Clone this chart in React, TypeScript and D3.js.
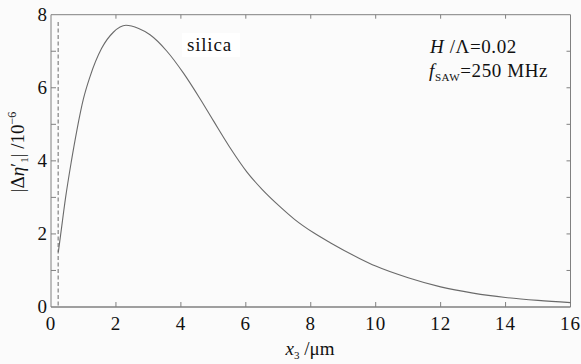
import React from 'react';
import * as d3 from 'd3';

// depth x3 (um) and |delta eta'_1| (1e-6)
const depth = [0.225, 0.3, 0.45, 0.62, 0.8, 1.0, 1.2, 1.56, 1.92, 2.31, 2.7, 3.05, 3.57, 4.08, 4.59, 5.0, 5.5, 6.03, 6.5, 7.06, 7.5, 8.09, 8.6, 9.5, 10, 11, 12, 13, 14, 15, 16];
const eta = [1.5, 2.0, 3.0, 3.95, 4.85, 5.7, 6.3, 7.08, 7.52, 7.71, 7.62, 7.45, 7.0, 6.4, 5.7, 5.1, 4.38, 3.7, 3.22, 2.74, 2.4, 2.03, 1.76, 1.33, 1.12, 0.8, 0.55, 0.38, 0.26, 0.18, 0.12];
const cutoff = 0.22;
const cutoffTop = 7.8;
const xTicks = [0, 2, 4, 6, 8, 10, 12, 14, 16];
const yTicks = [0, 1, 2, 3, 4, 5, 6, 7, 8];
const yLabels = [0, 2, 4, 6, 8];

const W = 581;
const H = 364;
const left = 51;
const right = 570.5;
const top = 14.7;
const bottom = 307;

const font = "'Liberation Serif', serif";
const axisColour = '#808080';
const lineColour = '#6a6a6a';

export default function App() {
  const x = d3.scaleLinear().domain([0, 16]).range([left, right]);
  const y = d3.scaleLinear().domain([0, 8]).range([bottom, top]);

  const pts = depth.map((d, i) => [d, eta[i]] as [number, number]);
  const line = d3.line<[number, number]>()
    .x(d => x(d[0]))
    .y(d => y(d[1]))
    .curve(d3.curveMonotoneX);

  return (
    <svg width={W} height={H} style={{ position: 'absolute', left: 0, top: 0, background: '#fbfbfb' }}
      fontFamily={font}>
      <rect x={0} y={0} width={W} height={H} fill="#fbfbfb" />

      {/* frame */}
      <line x1={left} x2={right} y1={top} y2={top} stroke={axisColour} strokeWidth={1} />
      <line x1={right} x2={right} y1={top} y2={bottom} stroke={axisColour} strokeWidth={1} />
      <line x1={left} x2={left} y1={top} y2={bottom} stroke={axisColour} strokeWidth={1} />
      <line x1={left} x2={right} y1={bottom} y2={bottom} stroke={axisColour} strokeWidth={1.6} />

      {/* x ticks, bottom and top, inward */}
      {xTicks.slice(1, -1).map(t => (
        <g key={'xt' + t}>
          <line x1={x(t)} x2={x(t)} y1={bottom} y2={bottom - 5} stroke={axisColour} />
          <line x1={x(t)} x2={x(t)} y1={top} y2={top + 4} stroke={axisColour} />
        </g>
      ))}
      {/* y ticks, left and right, inward */}
      {yTicks.slice(1, -1).map(t => (
        <g key={'yt' + t}>
          <line x1={left} x2={left + 5} y1={y(t)} y2={y(t)} stroke={axisColour} />
          <line x1={right} x2={right - 4} y1={y(t)} y2={y(t)} stroke={axisColour} />
        </g>
      ))}

      {xTicks.map(t => (
        <text key={'xl' + t} x={x(t)} y={330} fontSize={19} textAnchor="middle" fill="#111" letterSpacing={1}>{t}</text>
      ))}
      {yLabels.map(t => (
        <text key={'yl' + t} x={47} y={y(t) + 6} fontSize={19} textAnchor="end" fill="#111">{t}</text>
      ))}

      {/* cutoff dashed line */}
      <line x1={x(cutoff)} x2={x(cutoff)} y1={y(cutoffTop)} y2={bottom}
        stroke={lineColour} strokeWidth={1} strokeDasharray="4,2.5" />

      <path d={line(pts) || ''} fill="none" stroke={lineColour} strokeWidth={1.1} />

      {/* annotations */}
      <rect x={182} y={33} width={58} height={24} fill="#ffffff" />
      <text x={187} y={51} fontSize={19} fill="#111" letterSpacing={0.8}>silica</text>

      <text x={430} y={53} fontSize={19} fill="#111" letterSpacing={0.6}>
        <tspan fontStyle="italic">H</tspan>
        <tspan> /Λ=0.02</tspan>
      </text>
      <text x={429} y={77} fontSize={19} fill="#111" letterSpacing={0.6}>
        <tspan fontStyle="italic">f</tspan>
        <tspan fontSize={11} dy={4}>SAW</tspan>
        <tspan dy={-4}>=250 MHz</tspan>
      </text>

      {/* axis titles */}
      <text x={310} y={355} fontSize={19} textAnchor="middle" fill="#111">
        <tspan fontStyle="italic">x</tspan>
        <tspan fontSize={11} dy={4}>3</tspan>
        <tspan dy={-4}> /μm</tspan>
      </text>
      <text transform="translate(24,152) rotate(-90)" fontSize={19} textAnchor="middle" fill="#111">
        <tspan>|Δ</tspan>
        <tspan fontStyle="italic">η</tspan>
        <tspan>′</tspan>
        <tspan fontSize={11} dy={4}>1</tspan>
        <tspan dy={-4}>| /10</tspan>
        <tspan fontSize={12} dy={-8}>−6</tspan>
      </text>
    </svg>
  );
}
